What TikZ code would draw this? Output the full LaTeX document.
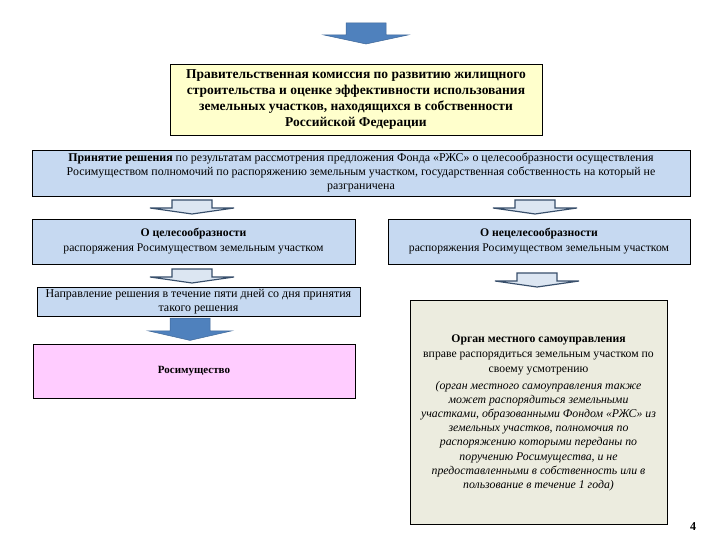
\documentclass[tikz,border=0pt]{standalone}
\usepackage{fontspec}
\setmainfont{Liberation Serif}
\usepackage{xcolor}
\usetikzlibrary{positioning}
\definecolor{yelfill}{HTML}{FFFFCC}
\definecolor{bluefill}{HTML}{C6D9F1}
\definecolor{pinkfill}{HTML}{FFCCFF}
\definecolor{beigefill}{HTML}{ECECDF}
\definecolor{arrblue}{HTML}{4F81BD}
\definecolor{arrlight}{HTML}{DCE6F2}
\definecolor{arredge}{HTML}{384F6B}

\begin{document}
\begin{tikzpicture}[x=1pt,y=-1pt,
  box/.style={draw,line width=0.8pt,align=center,inner sep=0pt},
  bluearr/.style={fill=arrblue,draw=arrblue!80!black,line width=0.5pt},
  lightarr/.style={fill=arrlight,draw=arredge,line width=1.2pt},
  pics/blkarrow/.style={code={
    \draw[#1] (-20,0) -- (20,0) -- (20,8) -- (42,8) -- (0,14) -- (-42,8) -- (-20,8) -- cycle;}}]
  \useasboundingbox (0,0) rectangle (720,540);
  \pic (arrtop) at (366,23) {blkarrow={bluearr,yscale=1.5}};
  \node[box,fill=yelfill,minimum width=372,minimum height=71,
    font=\fontsize{13.5}{16}\selectfont\bfseries] (komissiya) at (356,99.5)
    {Правительственная комиссия по развитию жилищного\\
     строительства и оценке эффективности использования\\
     земельных участков, находящихся в собственности\\
     Российской Федерации};
  \node[box,fill=bluefill,minimum width=658,minimum height=46,
    font=\fontsize{11.9}{14}\selectfont] (reshenie) at (361,173)
    {\textbf{Принятие решения} по результатам рассмотрения предложения Фонда «РЖС» о целесообразности осуществления\\
     Росимуществом полномочий по распоряжению земельным участком, государственная собственность на который не\\
     разграничена};
  \pic (arrleft) at (192,200) {blkarrow=lightarr};
  \pic (arrright) at (535,200) {blkarrow=lightarr};
  \node[box,fill=bluefill,minimum width=323,minimum height=45,
    font=\fontsize{11.7}{15}\selectfont] (celes) at (193.5,241.5)
    {\textbf{О целесообразности}\\
     распоряжения Росимуществом земельным участком};
  \node[box,fill=bluefill,minimum width=302,minimum height=45,
    font=\fontsize{11.7}{15}\selectfont] (neceles) at (539,241.5)
    {\textbf{О нецелесообразности}\\
     распоряжения Росимуществом земельным участком};
  \pic (arrnapr) at (192,269) {blkarrow=lightarr};
  \pic (arrorgan) at (537,273) {blkarrow=lightarr};
  \node[box,fill=bluefill,minimum width=323,minimum height=29,
    font=\fontsize{12}{14}\selectfont] (napravlenie) at (198.5,301.5)
    {Направление решения в течение пяти дней со дня принятия\\
     такого решения};
  \pic (arrrosim) at (190,318) {blkarrow={bluearr,yscale=1.6}};
  \node[box,fill=pinkfill,minimum width=322,minimum height=54,
    font=\fontsize{11}{13}\selectfont\bfseries] (rosim) at (194,371) {Росимущество};
  \node[box,fill=beigefill,minimum width=257,minimum height=224] (organ) at (538.5,412) {};
  \node[align=center,inner sep=0pt,anchor=north,
    font=\fontsize{11.7}{15}\selectfont] (organtxt) at (538.5,335)
    {\textbf{Орган местного самоуправления}\\
     вправе распорядиться земельным участком по\\
     своему усмотрению};
  \node[align=center,inner sep=0pt,below=5pt of organtxt,
    font=\fontsize{11.8}{14.2}\selectfont\itshape] (organnote)
    {(орган местного самоуправления также\\
     может распорядиться земельными\\
     участками, образованными Фондом «РЖС» из\\
     земельных участков, полномочия по\\
     распоряжению которыми переданы по\\
     поручению Росимущества, и не\\
     предоставленными в собственность или в\\
     пользование в течение 1 года)};
  \node[font=\fontsize{12}{14}\selectfont\bfseries] (nomer) at (693,527) {4};
\end{tikzpicture}
\end{document}
